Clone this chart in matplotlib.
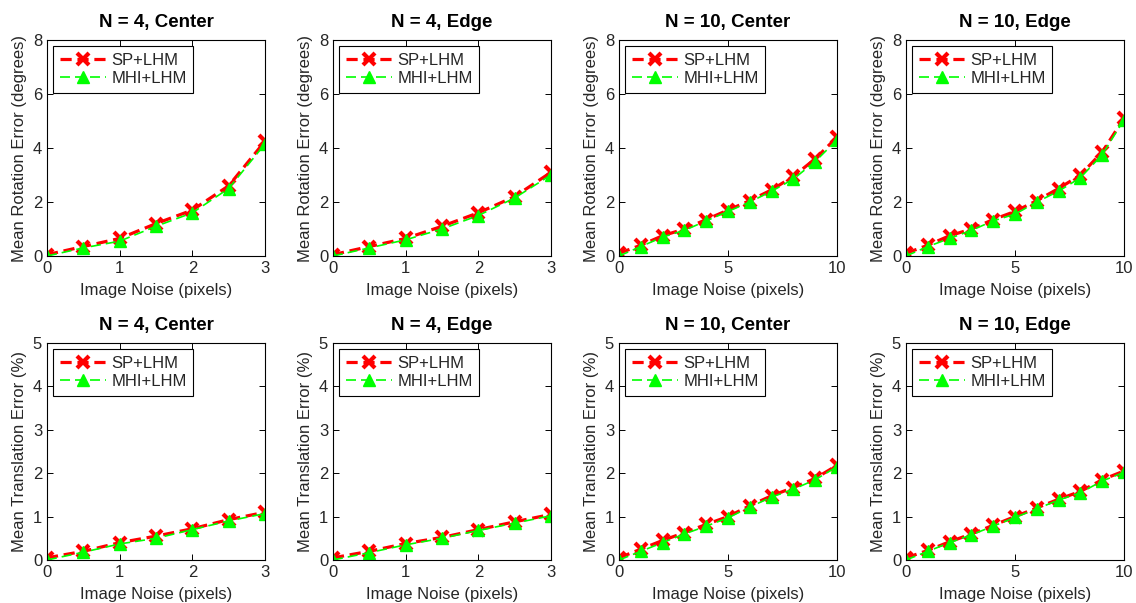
"""Mean rotation / translation error vs. image noise for SP+LHM and MHI+LHM."""

import matplotlib

matplotlib.use("Agg")
import matplotlib.pyplot as plt
import numpy as np

plt.rcParams["font.family"] = ["Liberation Sans", "DejaVu Sans"]

TITLES = ["N = 4, Center", "N = 4, Edge", "N = 10, Center", "N = 10, Edge"]
NOISE_N4 = [0, 0.5, 1, 1.5, 2, 2.5, 3]
NOISE_N10 = [0, 1, 2, 3, 4, 5, 6, 7, 8, 9, 10]

# rotation error (degrees)
ROT_SP = [
    [0.05, 0.35, 0.65, 1.2, 1.7, 2.6, 4.25],
    [0.05, 0.35, 0.65, 1.1, 1.6, 2.2, 3.1],
    [0.1, 0.4, 0.75, 1.0, 1.35, 1.7, 2.05, 2.45, 2.95, 3.6, 4.4],
    [0.1, 0.4, 0.75, 1.0, 1.35, 1.65, 2.05, 2.5, 3.0, 3.85, 5.1],
]
ROT_MHI = [
    [0.0, 0.3, 0.55, 1.1, 1.6, 2.5, 4.15],
    [0.0, 0.3, 0.6, 1.0, 1.5, 2.15, 3.0],
    [0.0, 0.35, 0.7, 0.95, 1.3, 1.65, 2.0, 2.4, 2.85, 3.5, 4.3],
    [0.0, 0.35, 0.65, 0.95, 1.3, 1.55, 2.0, 2.4, 2.9, 3.75, 5.05],
]

# translation error (%)
TRANS_SP = [
    [0.05, 0.2, 0.4, 0.55, 0.72, 0.93, 1.1],
    [0.05, 0.2, 0.38, 0.52, 0.7, 0.88, 1.05],
    [0.05, 0.25, 0.45, 0.63, 0.82, 1.0, 1.25, 1.48, 1.67, 1.88, 2.18],
    [0.05, 0.22, 0.42, 0.6, 0.8, 1.0, 1.2, 1.4, 1.58, 1.85, 2.05],
]
TRANS_MHI = [
    [0.0, 0.18, 0.37, 0.5, 0.7, 0.9, 1.07],
    [0.0, 0.17, 0.35, 0.5, 0.68, 0.85, 1.02],
    [0.0, 0.2, 0.4, 0.6, 0.78, 0.97, 1.22, 1.45, 1.63, 1.85, 2.15],
    [0.0, 0.2, 0.4, 0.58, 0.78, 0.98, 1.18, 1.38, 1.55, 1.82, 2.02],
]

NOISE = [NOISE_N4, NOISE_N4, NOISE_N10, NOISE_N10]
X_TICKS = [[0, 1, 2, 3], [0, 1, 2, 3], [0, 5, 10], [0, 5, 10]]

FIG_W, FIG_H = 1136, 603
LEFTS = [47, 333, 619, 906]
AX_W = 218
ROWS = [(40, 256), (343, 560)]  # (top, bottom) in pixels
TEXT_COLOR = "#262626"


def draw_panel(ax, x, sp, mhi, title, ylabel, ymax, xticks):
    ax.plot(x, sp, color="red", linestyle="--", linewidth=2.3, dashes=(3.5, 1.8),
            marker="x", markersize=8, markeredgewidth=3, label="SP+LHM")
    ax.plot(x, mhi, color="#00ff00", linestyle="--", linewidth=1.2, dashes=(6, 3),
            marker="^", markersize=8, label="MHI+LHM")
    ax.set_xlim(x[0], x[-1])
    ax.set_ylim(0, ymax)
    ax.set_xticks(xticks)
    ax.set_yticks(np.arange(0, ymax + 1, 2 if ymax == 8 else 1))
    ax.tick_params(direction="in", top=True, right=True, length=4, width=0.7,
                   labelsize=12, labelcolor=TEXT_COLOR, pad=3.5)
    ax.set_title(title, fontsize=13.5, fontweight="bold", pad=9.5)
    ax.set_xlabel("Image Noise (pixels)", fontsize=12, labelpad=5, color=TEXT_COLOR)
    ax.set_ylabel(ylabel, fontsize=12, labelpad=4, color=TEXT_COLOR)
    for spine in ax.spines.values():
        spine.set_linewidth(0.8)
    leg = ax.legend(loc="upper left", numpoints=1, handlelength=2.8,
                    fontsize=12, fancybox=False, framealpha=1,
                    borderaxespad=0.35, borderpad=0.4, labelspacing=0.2,
                    handletextpad=0.3)
    leg.get_frame().set_edgecolor("black")
    leg.get_frame().set_linewidth(0.8)
    for text in leg.get_texts():
        text.set_color(TEXT_COLOR)


fig = plt.figure(figsize=(FIG_W / 100, FIG_H / 100), dpi=100)

for row, (top, bottom) in enumerate(ROWS):
    for col in range(4):
        rect = [LEFTS[col] / FIG_W, 1 - bottom / FIG_H,
                AX_W / FIG_W, (bottom - top) / FIG_H]
        ax = fig.add_axes(rect)
        if row == 0:
            draw_panel(ax, NOISE[col], ROT_SP[col], ROT_MHI[col], TITLES[col],
                       "Mean Rotation Error (degrees)", 8, X_TICKS[col])
        else:
            draw_panel(ax, NOISE[col], TRANS_SP[col], TRANS_MHI[col], TITLES[col],
                       "Mean Translation Error (%)", 5, X_TICKS[col])

fig.savefig("out.png", dpi=100)
